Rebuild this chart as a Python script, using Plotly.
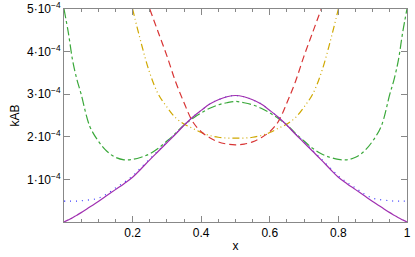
import plotly.graph_objects as go

# half curves (x in 0..0.5), mirrored about x = 0.5; values in units of 1e-4
x_half = [0, 0.0125, 0.025, 0.0375, 0.05, 0.075, 0.1, 0.125, 0.15, 0.175, 0.2,
          0.225, 0.25, 0.275, 0.3, 0.325, 0.35, 0.375, 0.4, 0.425, 0.45, 0.475, 0.5]
purple = [0, 0.05, 0.1, 0.16, 0.22, 0.35, 0.48, 0.62, 0.76, 0.9, 1.05,
          1.25, 1.46, 1.66, 1.86, 2.06, 2.27, 2.46, 2.62, 2.77, 2.87, 2.94, 2.97]
blue = [0.49, 0.49, 0.49, 0.49, 0.5, 0.52, 0.56, 0.66, 0.8, 0.93, 1.08,
        1.28, 1.48, 1.68, 1.88, 2.07, 2.27, 2.46, 2.62, 2.77, 2.87, 2.94, 2.97]
green = [5.0, 4.45, 3.8, 3.35, 3.0, 2.25, 1.9, 1.66, 1.52, 1.46, 1.47,
         1.52, 1.6, 1.73, 1.9, 2.08, 2.28, 2.43, 2.56, 2.67, 2.75, 2.8, 2.83]
x_red = [0.25, 0.275, 0.3, 0.325, 0.35, 0.375, 0.4, 0.425, 0.45, 0.475, 0.5]
red = [5.0, 4.45, 3.9, 3.3, 2.8, 2.36, 2.12, 1.98, 1.88, 1.83, 1.81]
x_yel = [0.2, 0.225, 0.25, 0.275, 0.3, 0.325, 0.35, 0.375, 0.4, 0.425, 0.45, 0.475, 0.5]
yellow = [5.0, 4.2, 3.5, 3.0, 2.7, 2.45, 2.3, 2.2, 2.1, 2.03, 1.99, 1.97, 1.97]

yticks = [1, 2, 3, 4, 5]
xticks = [0.2, 0.4, 0.6, 0.8, 1]


def full(xs, ys):
    xx = list(xs) + [1 - v for v in reversed(xs[:-1])]
    yy = [v * 1e-4 for v in ys] + [v * 1e-4 for v in reversed(ys[:-1])]
    return xx, yy


fig = go.Figure()
for xs, ys, col, dash in [
    (x_half, green, '#3aa83a', 'dashdot'),
    (x_yel, yellow, '#cfa800', '7px,3px,1px,3px,1px,3px'),
    (x_red, red, '#d83434', '7px,4px'),
    (x_half, blue, '#3a3aff', '1px,5px'),
    (x_half, purple, '#a030b0', 'solid'),
]:
    xx, yy = full(xs, ys)
    fig.add_trace(go.Scatter(x=xx, y=yy, mode='lines', line_shape='spline',
                             line=dict(color=col, width=1.2, dash=dash),
                             showlegend=False))

font = dict(family='Liberation Sans', size=12, color='black')
axis = dict(showgrid=False, zeroline=False, showline=True, mirror='ticks',
            linecolor='#888888', linewidth=1, ticks='inside', ticklen=6,
            tickcolor='#888888', tickfont=font, automargin=False)
fig.update_xaxes(range=[0, 1.0001], tickvals=xticks, ticktext=['0.2', '0.4', '0.6', '0.8', '1'],
                 minor=dict(dtick=0.05, ticks='inside', ticklen=3, tickcolor='#888888'),
                 title=dict(text='x', standoff=2, font=font), **axis)
fig.update_yaxes(range=[0, 5e-4], tickvals=[v * 1e-4 for v in yticks],
                 ticktext=['%d·10<sup>−4</sup>' % v for v in yticks],
                 title=dict(text='kAB', standoff=4, font=font), **axis)
fig.update_layout(width=415, height=257, margin=dict(l=64, r=8, t=9, b=35),
                  plot_bgcolor='white', paper_bgcolor='white')
fig.write_html('out.html', config={'displayModeBar': False},
               post_script="document.body.style.margin='0px';")
